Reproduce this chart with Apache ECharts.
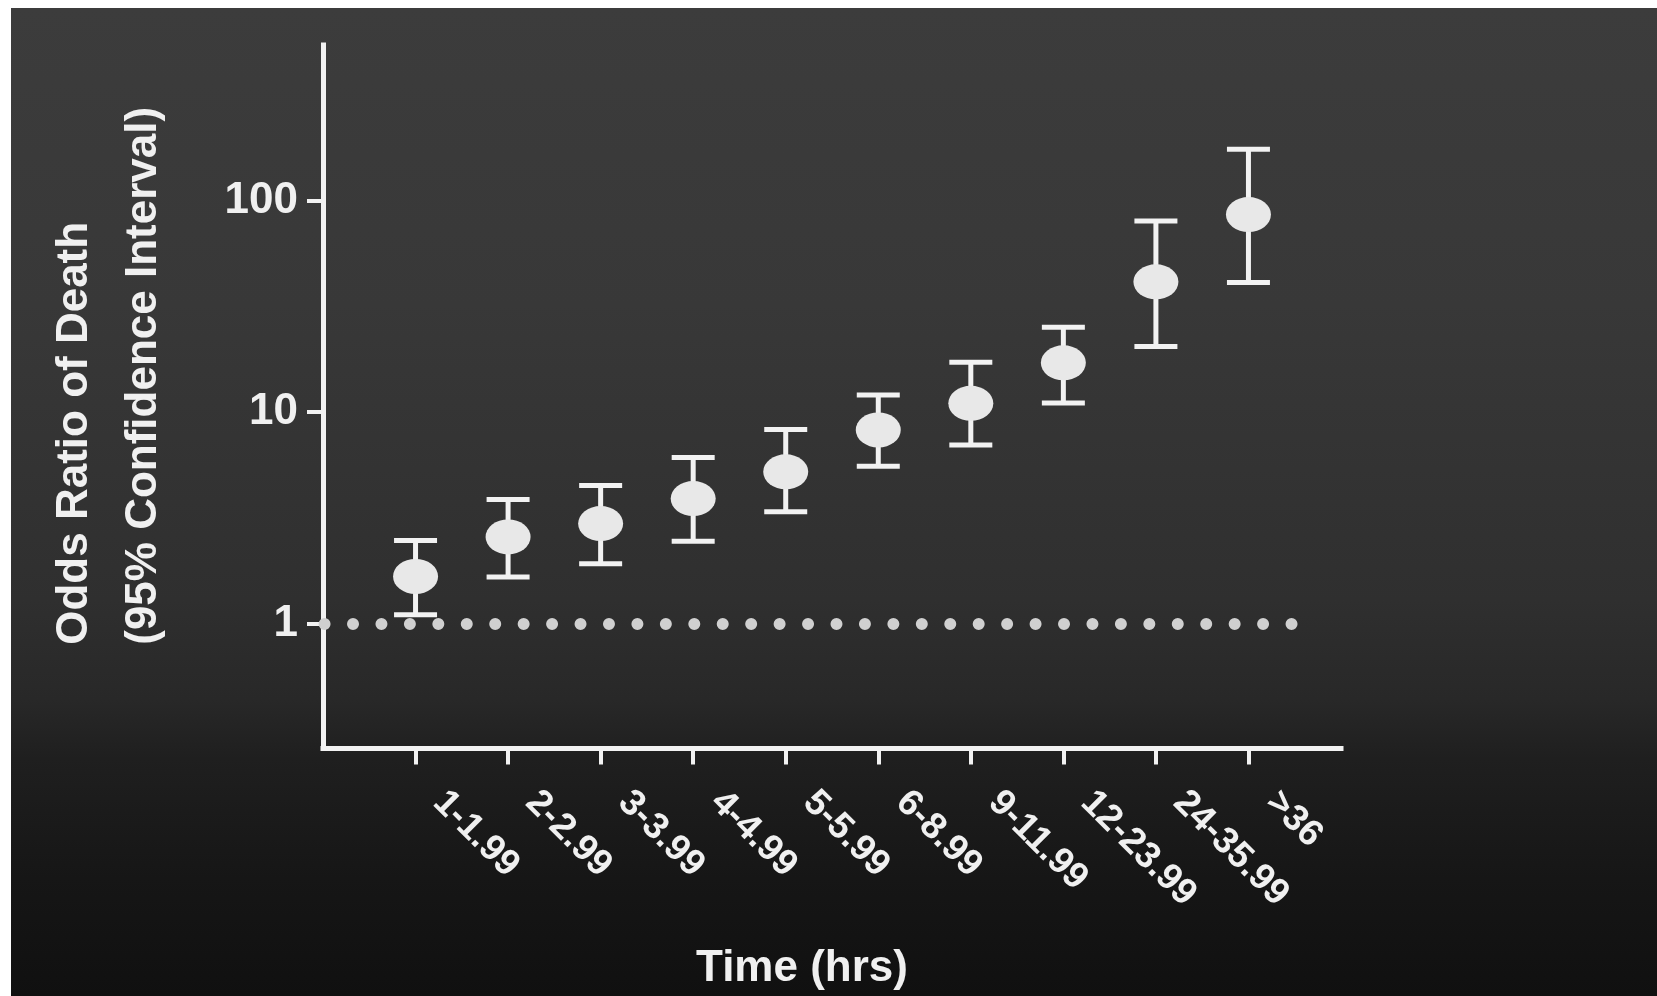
<!DOCTYPE html>
<html>
<head>
<meta charset="utf-8">
<script src="https://cdn.jsdelivr.net/npm/echarts@6/dist/echarts.min.js"></script>
<style>
  html, body { margin: 0; padding: 0; background: #ffffff; }
  #chart { width: 1657px; height: 996px; }
</style>
</head>
<body>
<div id="chart"></div>
<script>
// ---- data ----
const categories = ['1-1.99', '2-2.99', '3-3.99', '4-4.99', '5-5.99', '6-8.99', '9-11.99', '12-23.99', '24-35.99', '>36'];
const oddsRatio  = [1.67, 2.57, 2.97, 3.90, 5.22, 8.23, 11.0, 17.1, 41.3, 85.9];
const ciLower    = [1.10, 1.66, 1.92, 2.45, 3.38, 5.54, 6.99, 11.05, 20.4, 41.0];
const ciUpper    = [2.47, 3.86, 4.50, 6.10, 8.27, 12.05, 17.2, 25.2, 80.0, 174.8];
const yTickValues = [1, 10, 100];
const referenceLine = 1;

const positions = categories.map((c, i) => i + 1);
const pointData = positions.map((x, i) => [x, oddsRatio[i]]);
const barData = positions.map((x, i) => [x, ciLower[i], ciUpper[i]]);

const FONT = '"Liberation Sans", Arial, Helvetica, sans-serif';
const TXT = '#f0f0f0';

const chart = echarts.init(document.getElementById('chart'), null, { renderer: 'canvas' });

chart.setOption({
  animation: false,
  backgroundColor: '#ffffff',
  graphic: [{
    type: 'rect',
    z: -10,
    silent: true,
    shape: { x: 11, y: 8, width: 1657 - 11, height: 996 - 8 },
    style: {
      fill: {
        type: 'linear', x: 0, y: 0, x2: 0, y2: 1,
        colorStops: [
          { offset: 0, color: '#3c3c3c' },
          { offset: 0.30, color: '#383838' },
          { offset: 0.60, color: '#2f2f2f' },
          { offset: 0.70, color: '#282828' },
          { offset: 0.76, color: '#1f1f1f' },
          { offset: 0.88, color: '#161616' },
          { offset: 1, color: '#101010' }
        ]
      }
    }
  }],
  grid: { left: 323, right: 316, top: 45, bottom: 247.5, containLabel: false },
  xAxis: {
    type: 'value',
    min: 0,
    max: 11,
    name: 'Time (hrs)',
    nameLocation: 'middle',
    nameGap: 220,
    nameMoveOverlap: false,
    nameTextStyle: {
      color: TXT, fontFamily: FONT, fontWeight: 'bold', fontSize: 44,
      align: 'center', verticalAlign: 'middle', padding: [0, 60, 0, 0]
    },
    axisLine: { show: true, lineStyle: { color: '#f2f2f2', width: 5, cap: 'square' } },
    axisTick: { show: true, length: 16, inside: false, customValues: positions,
                lineStyle: { color: '#f2f2f2', width: 4 } },
    axisLabel: {
      show: true,
      customValues: positions,
      rotate: -45,
      margin: 25,
      padding: [0, 0, 0, 33],
      color: TXT, fontFamily: FONT, fontWeight: 'bold', fontSize: 37,
      formatter: v => categories[Math.round(v) - 1] || ''
    },
    splitLine: { show: false }
  },
  yAxis: {
    type: 'log',
    logBase: 10,
    min: 0.2567,
    max: 544,
    name: 'Odds Ratio of Death\n(95% Confidence Interval)',
    nameLocation: 'middle',
    nameRotate: 90,
    nameGap: 214,
    nameMoveOverlap: false,
    nameTextStyle: {
      color: TXT, fontFamily: FONT, fontWeight: 'bold', fontSize: 44, lineHeight: 69,
      align: 'left', verticalAlign: 'middle', padding: [0, 0, 0, -248]
    },
    axisLine: { show: true, lineStyle: { color: '#f2f2f2', width: 5, cap: 'square' } },
    axisTick: { show: true, length: 16, inside: false, customValues: yTickValues,
                lineStyle: { color: '#f2f2f2', width: 4 } },
    axisLabel: {
      show: true,
      customValues: yTickValues,
      margin: 25,
      color: TXT, fontFamily: FONT, fontWeight: 'bold', fontSize: 44,
      formatter: v => String(Math.round(v))
    },
    splitLine: { show: false },
    minorTick: { show: false }
  },
  series: [
    {
      type: 'custom',
      name: '95% CI',
      data: barData,
      encode: { x: 0, y: [1, 2] },
      z: 2,
      renderItem: function (params, api) {
        const x = api.value(0);
        const lo = api.coord([x, api.value(1)]);
        const hi = api.coord([x, api.value(2)]);
        const half = 21.5;
        const st = { stroke: '#f2f2f2', lineWidth: 5, lineCap: 'butt' };
        return {
          type: 'group',
          children: [
            { type: 'line', shape: { x1: lo[0], y1: lo[1], x2: hi[0], y2: hi[1] }, style: st },
            { type: 'line', shape: { x1: hi[0] - half, y1: hi[1], x2: hi[0] + half, y2: hi[1] }, style: st },
            { type: 'line', shape: { x1: lo[0] - half, y1: lo[1], x2: lo[0] + half, y2: lo[1] }, style: st }
          ]
        };
      }
    },
    {
      type: 'scatter',
      name: 'Odds ratio',
      data: pointData,
      symbol: 'circle',
      symbolSize: [45, 35],
      z: 3,
      itemStyle: { color: '#e8e8e8', opacity: 1 },
      markLine: {
        silent: true,
        symbol: ['none', 'none'],
        label: { show: false },
        z: 1,
        lineStyle: { color: '#d0d0d0', width: 12, type: [0, 28.44], cap: 'round', opacity: 1 },
        emphasis: { disabled: true },
        data: [[{ coord: [0.017, referenceLine] }, { coord: [10.47, referenceLine] }]]
      }
    }
  ]
});
</script>
</body>
</html>
